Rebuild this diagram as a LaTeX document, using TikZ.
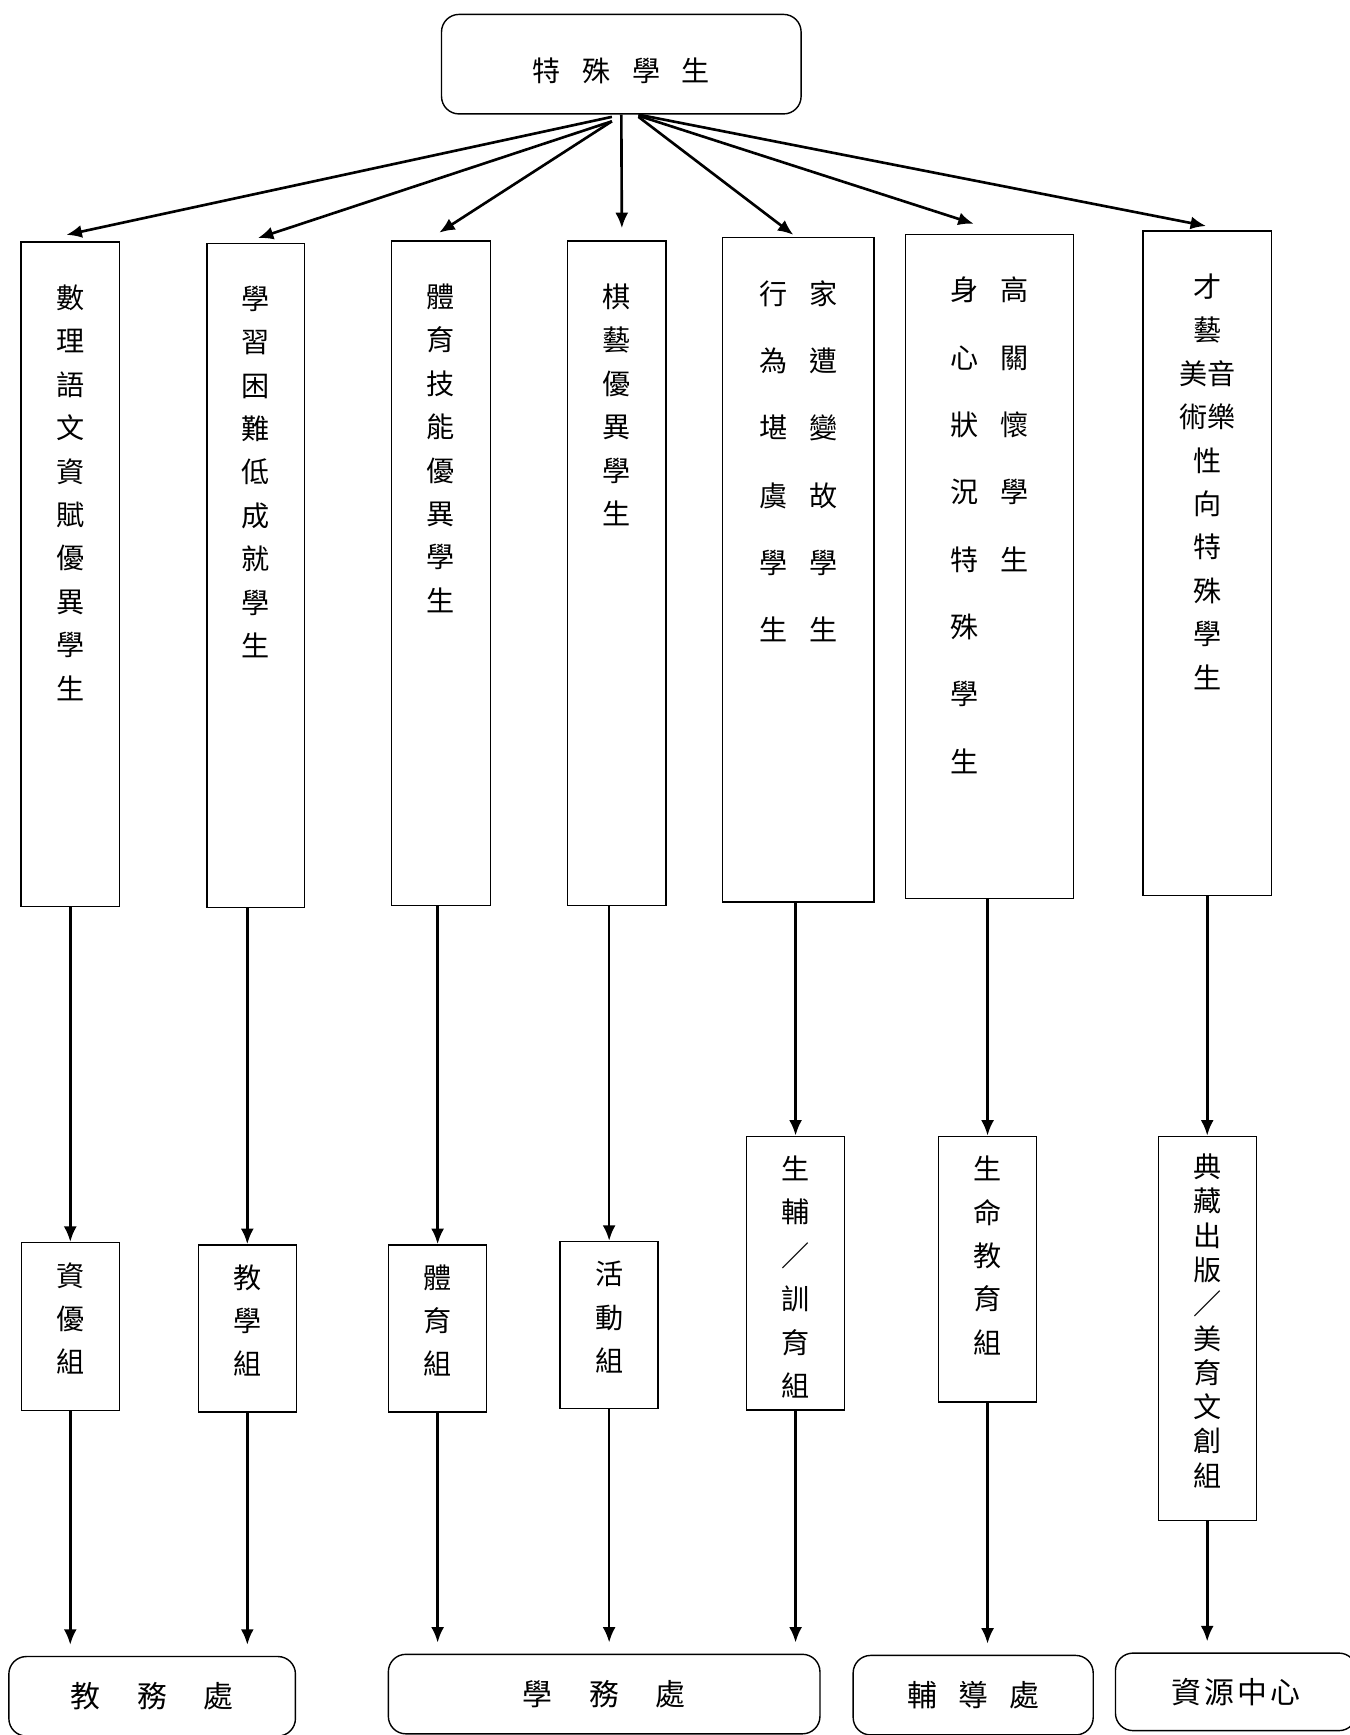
\documentclass[tikz,border=0pt]{standalone}
\usepackage{fontspec}
\setmainfont{Noto Sans CJK TC}
\usetikzlibrary{positioning, calc, arrows.meta}

\begin{document}
\begin{tikzpicture}[
    x=0.02213cm, y=-0.02213cm,
    topbox/.style={draw, rounded corners=0.35cm, line width=0.8pt, minimum width=7.19cm, minimum height=1.99cm},
    catbox/.style={draw, line width=0.8pt, minimum height=13.28cm, inner sep=0pt},
    grpbox/.style={draw, line width=0.8pt, minimum width=1.96cm, inner sep=0pt},
    offbox/.style={draw, rounded corners=0.35cm, line width=0.8pt, minimum height=1.59cm, font=\fontsize{17}{20}\selectfont},
    htxt/.style={inner sep=0pt, font=\fontsize{16}{20}\selectfont},
    vtxt/.style={align=center, inner sep=0pt, font=\fontsize{16}{24.7}\selectfont},
    wtxt/.style={align=center, inner sep=0pt, font=\fontsize{16}{38.3}\selectfont},
    ntxt/.style={align=center, inner sep=0pt, font=\fontsize{16}{19.5}\selectfont},
    arr/.style={-{Latex[length=3.1mm, width=2.6mm]}, line width=1.5pt},
]
\useasboundingbox (0,0) rectangle (1220,1568);
\clip (0,0) rectangle (1220,1568);

\node[topbox] (top) at (561.5,58) {};
\node[htxt] (toptxt) at ($(top.center)+(0,6)$) {特\hspace{4.3mm}殊\hspace{4.3mm}學\hspace{4.3mm}生};

\node[catbox, minimum width=1.97cm] (c1) at (63.5,519) {};
\node[catbox, minimum width=1.95cm] (c2) at (231,520) {};
\node[catbox, minimum width=1.97cm] (c3) at (398.5,518) {};
\node[catbox, minimum width=1.97cm] (c4) at (557.5,518) {};
\node[catbox, minimum width=3.03cm] (c5) at (721.5,515) {};
\node[catbox, minimum width=3.36cm] (c6) at (894,512) {};
\node[catbox, minimum width=2.57cm] (c7) at (1091,509) {};

\node[vtxt, below=0.86cm of c1.north] (c1t) {數\\理\\語\\文\\資\\賦\\優\\異\\學\\生};
\node[vtxt, below=0.86cm of c2.north] (c2t) {學\\習\\困\\難\\低\\成\\就\\學\\生};
\node[vtxt, below=0.86cm of c3.north] (c3t) {體\\育\\技\\能\\優\\異\\學\\生};
\node[vtxt, below=0.86cm of c4.north] (c4t) {棋\\藝\\優\\異\\學\\生};
\node[wtxt, below=0.86cm of c5.north, xshift=-0.5cm] (c5l) {行\\為\\堪\\虞\\學\\生};
\node[wtxt, below=0.86cm of c5.north, xshift=0.5cm] (c5r) {家\\遭\\變\\故\\學\\生};
\node[wtxt, below=0.86cm of c6.north, xshift=-0.5cm] (c6l) {身\\心\\狀\\況\\特\\殊\\學\\生};
\node[wtxt, below=0.86cm of c6.north, xshift=0.5cm] (c6r) {高\\關\\懷\\學\\生};
\node[vtxt, below=0.86cm of c7.north] (c7t) {才\\藝\\美音\\術樂\\性\\向\\特\\殊\\學\\生};

\node[grpbox, minimum height=3.36cm] (g1) at (63.5,1199) {};
\node[grpbox, minimum height=3.34cm] (g2) at (223.5,1200.5) {};
\node[grpbox, minimum height=3.34cm] (g3) at (395.5,1200.5) {};
\node[grpbox, minimum height=3.34cm] (g4) at (550.5,1197.5) {};
\node[grpbox, minimum height=5.47cm] (g5) at (719,1150.5) {};
\node[grpbox, minimum height=5.31cm] (g6) at (892.5,1147) {};
\node[grpbox, minimum height=7.68cm] (g7) at (1091,1200.5) {};

\node[vtxt, below=0.40cm of g1.north] (g1t) {資\\優\\組};
\node[vtxt, below=0.40cm of g2.north] (g2t) {教\\學\\組};
\node[vtxt, below=0.40cm of g3.north] (g3t) {體\\育\\組};
\node[vtxt, below=0.40cm of g4.north] (g4t) {活\\動\\組};
\node[vtxt, below=0.40cm of g5.north] (g5t) {生\\輔\\／\\訓\\育\\組};
\node[vtxt, below=0.40cm of g6.north] (g6t) {生\\命\\教\\育\\組};
\node[ntxt, below=0.36cm of g7.north] (g7t) {典\\藏\\出\\版\\／\\美\\育\\文\\創\\組};

\node[offbox, minimum width=5.73cm] (o1) at (137.5,1533) {教\hspace{7.3mm}務\hspace{7.3mm}處};
\node[offbox, minimum width=8.63cm] (o2) at (546,1531) {學\hspace{7.3mm}務\hspace{7.3mm}處};
\node[offbox, minimum width=4.80cm] (o3) at (879.5,1532) {輔\hspace{4.2mm}導\hspace{4.2mm}處};
\node[offbox, minimum width=4.82cm, minimum height=1.55cm] (o4) at (1117,1529) {資\hspace{0.6mm}源\hspace{0.6mm}中\hspace{0.6mm}心};

\draw[arr] ($(top.south)+(-8.5,2)$) -- ($(c1.north)+(-3.5,-6)$);
\draw[arr] ($(top.south)+(-8.5,6)$) -- ($(c2.north)+(2,-4)$);
\draw[arr] ($(top.south)+(-8.5,6)$) -- ($(c3.north)+(-1.5,-7)$);
\draw[arr] (top.south) -- ($(c4.north)+(4.5,-11)$);
\draw[arr] ($(top.south)+(15.5,2)$) -- ($(c5.north)+(-4.5,-2)$);
\draw[arr] ($(top.south)+(15.5,1)$) -- ($(c6.north)+(-14,-9)$);
\draw[arr] ($(top.south)+(15.5,0)$) -- ($(c7.north)+(-1,-4)$);

\draw[arr] (c1.south -| g1.north) -- (g1.north);
\draw[arr] (c2.south -| g2.north) -- (g2.north);
\draw[arr] (c3.south -| g3.north) -- (g3.north);
\draw[arr] (c4.south -| g4.north) -- (g4.north);
\draw[arr] (c5.south -| g5.north) -- (g5.north);
\draw[arr] (c6.south -| g6.north) -- (g6.north);
\draw[arr] (c7.south -| g7.north) -- (g7.north);

\draw[arr, shorten >=0.22cm] (g1.south) -- (g1.south |- o1.north);
\draw[arr, shorten >=0.22cm] (g2.south) -- (g2.south |- o1.north);
\draw[arr, shorten >=0.22cm] (g3.south) -- (g3.south |- o2.north);
\draw[arr, shorten >=0.22cm] (g4.south) -- (g4.south |- o2.north);
\draw[arr, shorten >=0.22cm] (g5.south) -- (g5.south |- o2.north);
\draw[arr, shorten >=0.22cm] (g6.south) -- (g6.south |- o3.north);
\draw[arr, shorten >=0.22cm] (g7.south) -- (g7.south |- o4.north);
\end{tikzpicture}
\end{document}
